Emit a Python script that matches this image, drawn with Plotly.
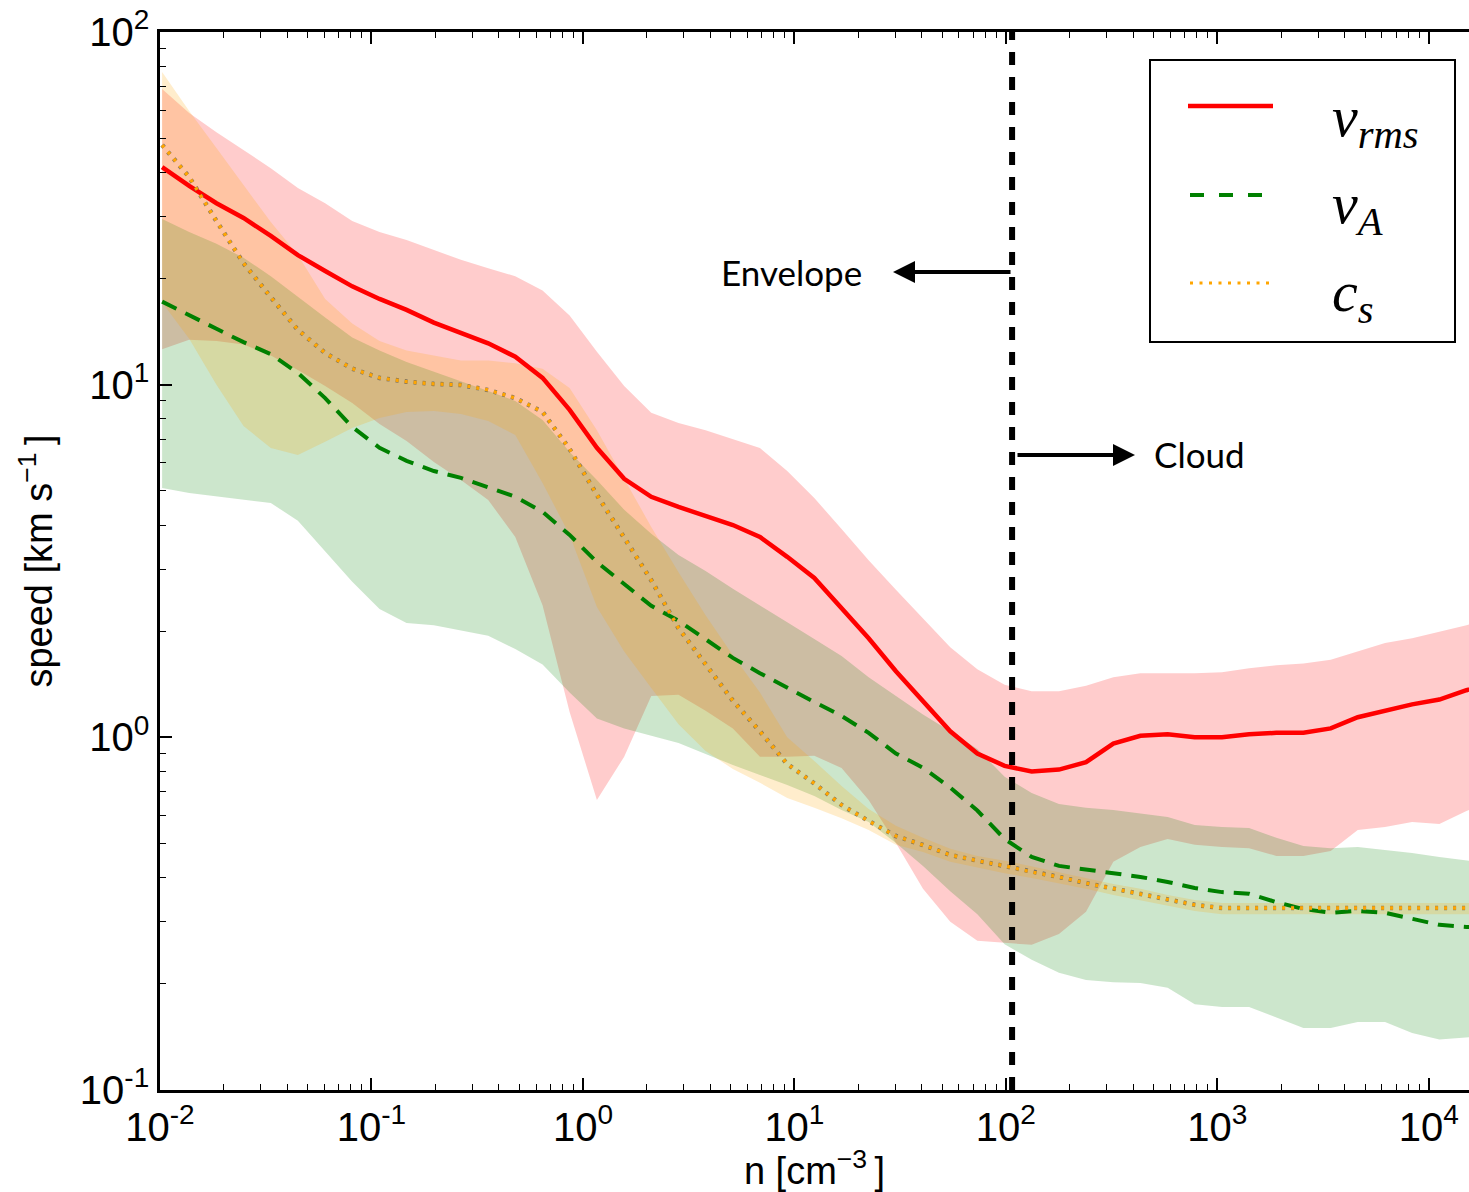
import plotly.graph_objects as go

# density bins (log10 n, n in cm^-3)
LOG_N = [-1.990, -1.862, -1.733, -1.605, -1.476, -1.348, -1.219, -1.091, -0.962, -0.834,
         -0.705, -0.577, -0.448, -0.320, -0.191, -0.063, 0.066, 0.195, 0.323, 0.452,
         0.580, 0.709, 0.837, 0.966, 1.094, 1.223, 1.351, 1.480, 1.608, 1.737,
         1.865, 1.994, 2.122, 2.251, 2.379, 2.508, 2.636, 2.765, 2.893, 3.022,
         3.150, 3.279, 3.407, 3.536, 3.664, 3.793, 3.921, 4.050, 4.178, 4.307]

# rms velocity [km/s] with its spread
V_RMS = [41.4, 36.6, 32.7, 29.7, 26.4, 23.3, 21.0, 19.0, 17.5, 16.3,
         15.0, 14.0, 13.1, 12.0, 10.45, 8.48, 6.62, 5.41, 4.81, 4.50,
         4.25, 4.00, 3.70, 3.25, 2.83, 2.33, 1.91, 1.54, 1.27, 1.04,
         0.90, 0.83, 0.80, 0.81, 0.85, 0.96, 1.01, 1.02, 1.00, 1.00,
         1.02, 1.03, 1.03, 1.06, 1.14, 1.19, 1.24, 1.28, 1.36, 1.43]
V_RMS_HI = [68.9, 58.9, 52.0, 46.2, 41.1, 36.1, 32.7, 29.1, 27.1, 25.7,
            24.1, 22.6, 21.4, 20.3, 18.5, 15.7, 12.4, 9.92, 8.32, 7.78,
            7.43, 7.01, 6.61, 5.69, 4.77, 3.90, 3.18, 2.62, 2.18, 1.80,
            1.56, 1.41, 1.35, 1.35, 1.40, 1.48, 1.52, 1.52, 1.52, 1.53,
            1.57, 1.60, 1.62, 1.66, 1.75, 1.85, 1.91, 1.99, 2.08, 2.18]
V_RMS_LO = [12.6, 13.4, 13.3, 13.0, 12.1, 11.0, 9.92, 8.87, 7.74, 6.92,
            6.04, 5.37, 4.71, 3.70, 2.37, 1.18, 0.664, 0.881, 1.31, 1.32,
            1.19, 1.06, 0.881, 0.881, 0.886, 0.819, 0.664, 0.502, 0.372, 0.300,
            0.265, 0.261, 0.258, 0.277, 0.320, 0.444, 0.489, 0.515, 0.496, 0.489,
            0.485, 0.461, 0.461, 0.476, 0.546, 0.557, 0.575, 0.568, 0.618, 0.664]

# Alfven speed [km/s] with its spread
V_A = [17.2, 15.7, 14.4, 13.2, 12.2, 10.8, 9.16, 7.59, 6.62, 6.08,
       5.69, 5.44, 5.13, 4.81, 4.36, 3.75, 3.14, 2.72, 2.36, 2.14,
       1.89, 1.68, 1.52, 1.38, 1.26, 1.15, 1.03, 0.90, 0.82, 0.72,
       0.62, 0.515, 0.458, 0.432, 0.421, 0.410, 0.402, 0.389, 0.374, 0.364,
       0.360, 0.341, 0.326, 0.318, 0.322, 0.318, 0.306, 0.294, 0.290, 0.288]
V_A_HI = [29.5, 27.1, 25.1, 22.9, 20.3, 17.7, 15.5, 13.6, 12.5, 11.6,
          10.9, 10.2, 9.59, 8.99, 7.94, 6.44, 5.37, 4.42, 3.78, 3.29,
          2.96, 2.64, 2.36, 2.12, 1.90, 1.70, 1.48, 1.31, 1.16, 1.04,
          0.927, 0.773, 0.695, 0.647, 0.631, 0.622, 0.607, 0.594, 0.564, 0.557,
          0.553, 0.519, 0.492, 0.485, 0.489, 0.480, 0.470, 0.458, 0.447, 0.438]
V_A_LO = [5.09, 4.93, 4.81, 4.72, 4.62, 4.11, 3.36, 2.76, 2.31, 2.11,
          2.08, 2.01, 1.94, 1.78, 1.61, 1.34, 1.13, 1.06, 1.01, 0.964,
          0.897, 0.835, 0.782, 0.733, 0.682, 0.622, 0.575, 0.502, 0.432, 0.366,
          0.315, 0.259, 0.234, 0.215, 0.205, 0.202, 0.201, 0.195, 0.175, 0.172,
          0.172, 0.161, 0.150, 0.150, 0.156, 0.156, 0.145, 0.139, 0.141, 0.143]

# sound speed [km/s] with its spread
C_S = [47.8, 38.8, 29.1, 22.1, 17.7, 14.3, 12.3, 11.1, 10.45, 10.2,
       10.05, 9.98, 9.66, 9.16, 8.37, 6.57, 4.87, 3.70, 2.79, 2.04,
       1.61, 1.27, 1.04, 0.84, 0.74, 0.643, 0.579, 0.525, 0.495, 0.464,
       0.447, 0.432, 0.415, 0.402, 0.386, 0.372, 0.360, 0.346, 0.335, 0.328,
       0.328, 0.328, 0.328, 0.328, 0.328, 0.328, 0.328, 0.328, 0.328, 0.328]
C_S_HI = [77.0, 59.7, 46.9, 36.8, 28.9, 23.3, 17.5, 14.9, 13.3, 12.5,
          12.1, 11.7, 11.7, 11.5, 11.1, 9.79, 7.43, 5.41, 3.95, 2.94,
          2.22, 1.71, 1.34, 1.00, 0.857, 0.728, 0.626, 0.561, 0.519, 0.483,
          0.461, 0.447, 0.430, 0.415, 0.399, 0.384, 0.372, 0.357, 0.346, 0.339,
          0.339, 0.339, 0.339, 0.339, 0.339, 0.339, 0.339, 0.339, 0.339, 0.339]
C_S_LO = [17.1, 13.5, 10.0, 7.64, 6.61, 6.32, 6.89, 7.54, 8.05, 8.37,
          8.42, 8.26, 7.89, 7.20, 5.26, 3.75, 2.34, 1.75, 1.38, 1.09,
          0.915, 0.813, 0.743, 0.673, 0.631, 0.590, 0.546, 0.496, 0.473, 0.444,
          0.427, 0.412, 0.399, 0.386, 0.372, 0.357, 0.346, 0.333, 0.322, 0.315,
          0.315, 0.315, 0.315, 0.315, 0.315, 0.315, 0.315, 0.315, 0.315, 0.315]

# envelope / cloud boundary density
N_BOUNDARY = 107.0

X_TICKS = [1e-2, 1e-1, 1e0, 1e1, 1e2, 1e3, 1e4]
X_TICK_TEXT = ["10<sup>-2</sup>", "10<sup>-1</sup>", "10<sup>0</sup>", "10<sup>1</sup>",
               "10<sup>2</sup>", "10<sup>3</sup>", "10<sup>4</sup>"]
Y_TICKS = [1e-1, 1e0, 1e1, 1e2]
Y_TICK_TEXT = ["10<sup>-1</sup>", "10<sup>0</sup>", "10<sup>1</sup>", "10<sup>2</sup>"]

W, H = 1469, 1192
L, R, T, B = 160, 0, 32, 102

n = [10 ** v for v in LOG_N]


def px(x):
    return (x - L) / (W - L - R)


def py(y):
    return (H - B - y) / (H - B - T)


def minor_vals(decades):
    return [m * d for d in decades for m in range(2, 10)]


fig = go.Figure()


def band(lo, hi, color):
    fig.add_trace(go.Scatter(
        x=n + n[::-1], y=hi + lo[::-1], fill="toself", fillcolor=color,
        line=dict(width=0), mode="lines", hoverinfo="skip", showlegend=False))


band(V_RMS_LO, V_RMS_HI, "rgba(255,0,0,0.2)")
band(V_A_LO, V_A_HI, "rgba(0,128,0,0.2)")
band(C_S_LO, C_S_HI, "rgba(255,165,0,0.2)")

fig.add_trace(go.Scatter(x=n, y=V_RMS, mode="lines", name="v_rms",
                         line=dict(color="red", width=4.5), showlegend=False))
fig.add_trace(go.Scatter(x=n, y=V_A, mode="lines", name="v_A",
                         line=dict(color="green", width=4, dash="16px,10px"),
                         showlegend=False))
fig.add_trace(go.Scatter(x=n, y=C_S, mode="lines", hoverinfo="skip",
                         line=dict(color="rgba(95,95,95,0.8)", width=4.6, dash="3px,6px"),
                         showlegend=False))
fig.add_trace(go.Scatter(x=n, y=C_S, mode="lines", name="c_s",
                         line=dict(color="#FFA500", width=3.4, dash="3px,6px"),
                         showlegend=False))

# envelope / cloud divider
fig.add_trace(go.Scatter(x=[N_BOUNDARY, N_BOUNDARY], y=[Y_TICKS[0], Y_TICKS[-1]],
                         mode="lines", line=dict(color="black", width=6, dash="13px,12px"),
                         hoverinfo="skip", showlegend=False))

tick_font = dict(family="Liberation Sans, Arial, sans-serif", size=40, color="black")
title_font = dict(family="Liberation Sans, Arial, sans-serif", size=38, color="black")
fig.update_xaxes(
    type="log", range=[-2, 4.19], tickvals=X_TICKS, ticktext=X_TICK_TEXT,
    ticks="inside", ticklen=12, tickwidth=1.5, tickcolor="black",
    minor=dict(tickvals=minor_vals([1e-2, 1e-1, 1e0, 1e1, 1e2, 1e3, 1e4]),
               ticks="inside", ticklen=6, tickwidth=1.2, tickcolor="black", showgrid=False),
    showline=True, linecolor="black", linewidth=2.5, mirror="ticks",
    showgrid=False, zeroline=False, tickfont=tick_font,
    title=dict(text="n [cm<sup>\u22123 </sup>]", font=title_font, standoff=4),
)
fig.update_yaxes(
    type="log", range=[-1, 2], tickvals=Y_TICKS, ticktext=Y_TICK_TEXT,
    ticks="inside", ticklen=12, tickwidth=1.5, tickcolor="black",
    minor=dict(tickvals=minor_vals([1e-1, 1e0, 1e1]),
               ticks="inside", ticklen=6, tickwidth=1.2, tickcolor="black", showgrid=False),
    showline=True, linecolor="black", linewidth=2.5, mirror=False,
    showgrid=False, zeroline=False, tickfont=tick_font,
    title=dict(text="speed [km s<sup>\u22121 </sup>]", font=title_font, standoff=16),
)

shapes = []
annotations = []

# legend box
shapes.append(dict(type="rect", xref="paper", yref="paper",
                   x0=px(1150), x1=px(1455), y0=py(342), y1=py(60),
                   line=dict(color="black", width=2), fillcolor="white", layer="above"))
shapes.append(dict(type="line", xref="paper", yref="paper",
                   x0=px(1188), x1=px(1273), y0=py(106), y1=py(106),
                   line=dict(color="red", width=4.5), layer="above"))
shapes.append(dict(type="line", xref="paper", yref="paper",
                   x0=px(1190), x1=px(1263), y0=py(195), y1=py(195),
                   line=dict(color="green", width=4, dash="14px,15px"), layer="above"))
shapes.append(dict(type="line", xref="paper", yref="paper",
                   x0=px(1190), x1=px(1270), y0=py(283), y1=py(283),
                   line=dict(color="#FFA500", width=3, dash="3px,6.5px"), layer="above"))

leg_font = dict(family="Liberation Serif, DejaVu Serif, serif", size=58, color="black")
for label, yc in [("<i>v</i><sub><i>rms</i></sub>", 120),
                  ("<i>v</i><sub><i>A</i></sub>", 207),
                  ("<i>c</i><sub><i>s</i></sub>", 295)]:
    annotations.append(dict(text=label, xref="paper", yref="paper", x=px(1330), y=py(yc),
                            xanchor="left", yanchor="middle", showarrow=False, font=leg_font))

label_font = dict(family="Lato, Open Sans, sans-serif", size=35, color="black")
annotations.append(dict(text="Envelope", xref="paper", yref="paper", x=px(864), y=py(272),
                        xanchor="right", yanchor="middle", showarrow=False, font=label_font))
annotations.append(dict(text="Cloud", xref="paper", yref="paper", x=px(1152), y=py(454),
                        xanchor="left", yanchor="middle", showarrow=False, font=label_font))
annotations.append(dict(text="", xref="paper", yref="paper", x=px(893), y=py(272),
                        ax=1012 - 893, ay=0, showarrow=True, arrowhead=2, arrowsize=1.1,
                        arrowwidth=4, arrowcolor="black"))
annotations.append(dict(text="", xref="paper", yref="paper", x=px(1135), y=py(455),
                        ax=1016 - 1135, ay=0, showarrow=True, arrowhead=2, arrowsize=1.1,
                        arrowwidth=4, arrowcolor="black"))

fig.update_layout(
    width=W, height=H, margin=dict(l=L, r=R, t=T, b=B),
    paper_bgcolor="white", plot_bgcolor="white",
    shapes=shapes, annotations=annotations, showlegend=False,
)

fig.write_html("out.html")
